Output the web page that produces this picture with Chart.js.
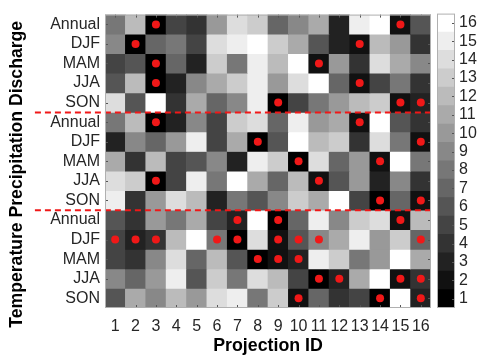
<!DOCTYPE html>
<html>
<head>
<meta charset="utf-8">
<script src="https://cdn.jsdelivr.net/npm/chart.js@4.4.0/dist/chart.umd.min.js"></script>
<style>
  body { margin: 0; background: #fff; }
  #wrap { position: relative; width: 480px; height: 357px; }
  #heat { position: absolute; left: 0; top: 0; }
  #bar { position: absolute; left: 430px; top: 0; }
</style>
</head>
<body>
<div id="wrap">
  <canvas id="heat" width="480" height="357"></canvas>
  <canvas id="bar" width="50" height="357"></canvas>
</div>
<script>
const projections = [1, 2, 3, 4, 5, 6, 7, 8, 9, 10, 11, 12, 13, 14, 15, 16];
const seasons = ['Annual', 'DJF', 'MAM', 'JJA', 'SON'];
const rowLabels = [...seasons, ...seasons, ...seasons];

// rank of each projection (1 = black, 16 = white), top group first
const dischargeRanks = [
  [8, 12, 1, 5, 4, 10, 14, 13, 7, 9, 11, 3, 15, 16, 2, 6],
  [9, 1, 7, 8, 5, 14, 15, 16, 13, 11, 6, 3, 2, 12, 10, 4],
  [5, 6, 1, 7, 3, 13, 8, 15, 12, 16, 2, 10, 4, 14, 11, 9],
  [6, 12, 1, 3, 9, 11, 13, 15, 10, 14, 16, 7, 2, 5, 8, 4],
  [14, 6, 16, 4, 11, 7, 9, 15, 1, 5, 8, 10, 12, 13, 2, 3],
];
const precipRanks = [
  [8, 12, 1, 3, 9, 5, 13, 14, 7, 15, 10, 11, 2, 16, 6, 4],
  [3, 9, 7, 10, 15, 5, 11, 1, 6, 16, 12, 13, 4, 14, 8, 2],
  [11, 4, 12, 5, 6, 9, 3, 15, 13, 1, 14, 7, 10, 2, 16, 8],
  [14, 13, 1, 5, 15, 8, 16, 11, 7, 12, 2, 6, 10, 3, 9, 4],
  [15, 4, 10, 14, 12, 3, 8, 6, 9, 13, 11, 16, 5, 1, 7, 2],
];
const tempRanks = [
  [6, 4, 10, 8, 11, 5, 3, 16, 1, 7, 15, 9, 13, 14, 2, 12],
  [5, 3, 4, 12, 16, 8, 1, 14, 2, 6, 9, 11, 15, 10, 13, 7],
  [5, 4, 9, 14, 7, 12, 6, 1, 2, 3, 15, 13, 8, 10, 16, 11],
  [9, 7, 10, 15, 6, 13, 8, 14, 12, 5, 1, 3, 11, 16, 2, 4],
  [6, 11, 9, 12, 10, 14, 15, 8, 13, 2, 7, 4, 5, 1, 16, 3],
];

// projections marked with a red dot in each row
const dischargeDots = [[3, 15], [2, 13], [3, 11], [3, 13], [9, 15, 16]];
const precipDots = [[3, 13], [8, 16], [10, 14], [3, 11], [14, 16]];
const tempDots = [[7, 9, 15], [1, 2, 3, 6, 7, 9, 10, 11, 16], [8, 9, 10], [11, 12, 15, 16], [10, 14, 16]];

const groupBreaks = [5.5, 10.5];
const colorbarTicks = [1, 2, 3, 4, 5, 6, 7, 8, 9, 10, 11, 12, 13, 14, 15, 16];

const ranks = [...dischargeRanks, ...precipRanks, ...tempRanks];
const dots = [...dischargeDots, ...precipDots, ...tempDots];

const FONT = "'Liberation Sans', Arial, sans-serif";
const TEXT = '#262626';
const RED = '#f01818';

function gray(rank) {
  const v = Math.round((rank - 1) * 255 / 15);
  return `rgb(${v},${v},${v})`;
}

const datasets = [];

// red dots on top
const dotPoints = [];
dots.forEach((cols, r) => cols.forEach(c => dotPoints.push({ x: c, y: r + 1 })));
datasets.push({
  type: 'scatter',
  data: dotPoints,
  order: -2,
  pointRadius: 4,
  pointHoverRadius: 4,
  backgroundColor: RED,
  borderWidth: 0,
});

// dashed separators, running out into the label area
groupBreaks.forEach(b => {
  datasets.push({
    type: 'line',
    data: [{ x: -2.94, y: b }, { x: 16.5, y: b }],
    order: -1,
    borderColor: RED,
    borderWidth: 2,
    borderDash: [6, 4],
    pointRadius: 0,
    clip: false,
  });
});

// one floating-bar dataset per row, one bar per cell
ranks.forEach((row, r) => {
  datasets.push({
    type: 'bar',
    data: row.map((v, i) => ({ x: projections[i], y: [r + 0.5, r + 1.5] })),
    backgroundColor: row.map(gray),
    borderWidth: 0,
    grouped: false,
    barPercentage: 1,
    categoryPercentage: 1,
  });
});

const frame = {
  id: 'frame',
  afterDraw(chart) {
    const { ctx, chartArea: a, scales } = chart;
    ctx.save();
    // inward ticks
    ctx.strokeStyle = '#555';
    ctx.lineWidth = 1;
    ctx.beginPath();
    projections.forEach(v => {
      const x = Math.round(scales.x.getPixelForValue(v)) + 0.5;
      ctx.moveTo(x, a.top); ctx.lineTo(x, a.top + 3);
      ctx.moveTo(x, a.bottom); ctx.lineTo(x, a.bottom - 3);
    });
    rowLabels.forEach((_, i) => {
      const y = Math.round(scales.y.getPixelForValue(i + 1)) + 0.5;
      ctx.moveTo(a.left, y); ctx.lineTo(a.left + 3, y);
      ctx.moveTo(a.right, y); ctx.lineTo(a.right - 3, y);
    });
    ctx.stroke();
    ctx.strokeStyle = '#b0b0b0';
    ctx.strokeRect(a.left + 0.5, a.top + 0.5, a.right - a.left - 1, a.bottom - a.top - 1);
    // y title
    ctx.translate(17, (a.top + a.bottom) / 2 + 13);
    ctx.rotate(-Math.PI / 2);
    ctx.font = `bold 17.6px ${FONT}`;
    ctx.fillStyle = '#000';
    ctx.textAlign = 'center';
    ctx.textBaseline = 'middle';
    ctx.fillText('Temperature Precipitation Discharge', 0, 0);
    ctx.restore();
  },
};

new Chart(document.getElementById('heat'), {
  type: 'bar',
  data: { datasets },
  options: {
    responsive: false,
    animation: false,
    devicePixelRatio: 1,
    layout: { padding: { left: 0, right: 49, top: 7, bottom: 0 } },
    plugins: { legend: { display: false }, tooltip: { enabled: false } },
    scales: {
      x: {
        type: 'linear',
        min: 0.5,
        max: 16.5,
        offset: false,
        grid: { display: false, offset: false, drawTicks: false },
        border: { display: false },
        afterBuildTicks: s => { s.ticks = projections.map(v => ({ value: v })); },
        afterFit: s => { s.height = 49; },
        ticks: {
          autoSkip: false,
          maxRotation: 0,
          padding: 9,
          color: TEXT,
          font: { family: FONT, size: 16 },
        },
        title: {
          display: true,
          text: 'Projection ID',
          color: '#000',
          font: { family: FONT, size: 17.8, weight: 'bold' },
          padding: { top: 0, bottom: 0 },
        },
      },
      y: {
        type: 'linear',
        reverse: true,
        min: 0.5,
        max: 15.5,
        grid: { display: false, drawTicks: false },
        border: { display: false },
        afterBuildTicks: s => { s.ticks = rowLabels.map((_, i) => ({ value: i + 1 })); },
        afterFit: s => { s.width = 105; },
        ticks: {
          autoSkip: false,
          padding: 5,
          color: TEXT,
          font: { family: FONT, size: 16 },
          callback: v => rowLabels[v - 1],
        },
      },
    },
  },
  plugins: [frame],
});

const cbFrame = {
  id: 'cbFrame',
  afterDraw(chart) {
    const { ctx, chartArea: a, scales } = chart;
    ctx.save();
    ctx.strokeStyle = '#555';
    ctx.lineWidth = 1;
    ctx.beginPath();
    colorbarTicks.forEach(v => {
      const y = Math.round(scales.y.getPixelForValue(v)) + 0.5;
      ctx.moveTo(a.right, y); ctx.lineTo(a.right - 3, y);
    });
    ctx.stroke();
    ctx.strokeStyle = '#b0b0b0';
    ctx.strokeRect(a.left + 0.5, a.top + 0.5, a.right - a.left - 1, a.bottom - a.top - 1);
    ctx.restore();
  },
};

new Chart(document.getElementById('bar'), {
  type: 'bar',
  data: {
    labels: [''],
    datasets: colorbarTicks.map(k => ({
      data: [[k - 0.5, k + 0.5]],
      backgroundColor: gray(k),
      borderWidth: 0,
      grouped: false,
      barPercentage: 1,
      categoryPercentage: 1,
    })),
  },
  options: {
    responsive: false,
    animation: false,
    devicePixelRatio: 1,
    layout: { padding: { left: 7, right: 0, top: 7, bottom: 49 } },
    plugins: { legend: { display: false }, tooltip: { enabled: false } },
    scales: {
      x: { display: false },
      y: {
        position: 'right',
        min: 0.5,
        max: 16.5,
        grid: { display: false, drawTicks: false },
        border: { display: false },
        afterBuildTicks: s => { s.ticks = colorbarTicks.map(v => ({ value: v })); },
        afterFit: s => { s.width = 25; },
        ticks: {
          autoSkip: false,
          padding: 4,
          color: TEXT,
          font: { family: FONT, size: 16 },
        },
      },
    },
  },
  plugins: [cbFrame],
});
</script>
</body>
</html>
